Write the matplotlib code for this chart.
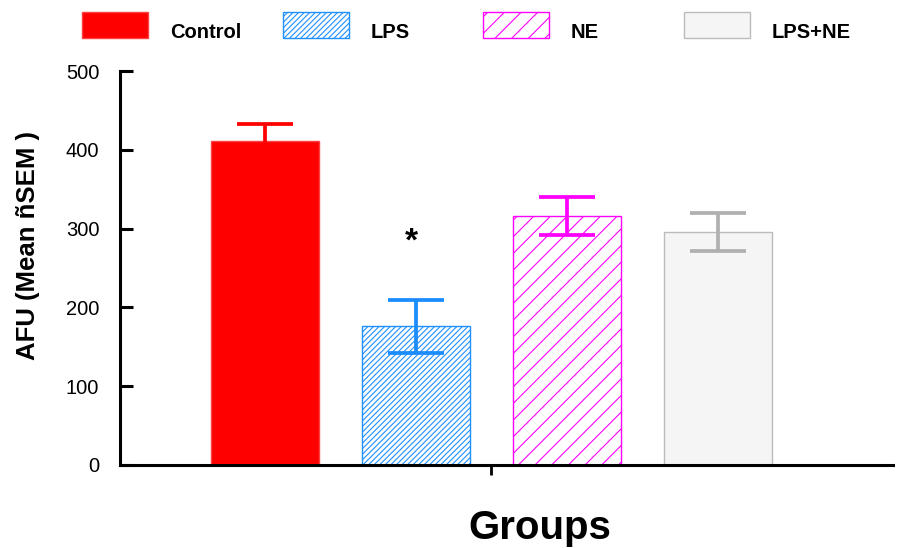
import matplotlib
matplotlib.use("Agg")
import matplotlib.pyplot as plt
from matplotlib.patches import Rectangle

plt.rcParams['font.family'] = ['Liberation Sans', 'DejaVu Sans']
plt.rcParams['hatch.linewidth'] = 0.8

# group means and SEM (AFU)
groups = ['Control', 'LPS', 'NE', 'LPS+NE']
means = [411, 176, 316, 296]
sems = [22, 34, 24, 24]
hatches = ['', '//////', '//', '']
face = ['#ff0000', 'white', 'white', '#f5f5f5']
edge = ['#ff4040', '#1e90ff', '#ff00ff', '#bbbbbb']
err_col = ['#ff0000', '#1a8cff', '#ff00ff', '#b0b0b0']
star_y = 283

fig = plt.figure(figsize=(9.06, 5.48), dpi=100)
ax = fig.add_axes([0.1325, 0.1515, 0.8532, 0.7189])

x = range(len(groups))
for i in x:
    ax.bar(i, means[i], width=0.71, color=face[i], edgecolor=edge[i],
           hatch=hatches[i], linewidth=1, zorder=2)
    ax.errorbar(i, means[i], yerr=sems[i], color=err_col[i], elinewidth=2.7,
                capsize=20.5, capthick=2.7, zorder=3)

ax.text(0.97, star_y, '*', ha='center', va='center', fontsize=24, fontweight='bold')

ax.set_xlim(-0.96, 4.16)
ax.set_ylim(0, 500)
ax.set_yticks([0, 100, 200, 300, 400, 500])
ax.set_xticks([1.5])
ax.set_xticklabels([''])
ax.tick_params(axis='y', direction='in', length=9.5, width=2.2, pad=15, labelsize=14.5)
ax.tick_params(axis='x', direction='out', length=7, width=2)
for s in ['top', 'right']:
    ax.spines[s].set_visible(False)
for s in ['left', 'bottom']:
    ax.spines[s].set_linewidth(2.2)

ax.set_ylabel('AFU (Mean ñSEM )', fontsize=18.5, fontweight='bold')
ax.yaxis.set_label_coords(-0.104, 0.557)
ax.set_xlabel('Groups', fontsize=29, fontweight='bold')
ax.xaxis.set_label_coords(0.543, -0.112)

# legend row drawn along the top edge of the figure
W, H = 906, 548
for i, g in enumerate(groups):
    x0 = 82 + i * 200.5
    fig.add_artist(Rectangle((x0 / W, 1 - 38 / H), 66 / W, 26 / H,
                             transform=fig.transFigure, facecolor=face[i],
                             edgecolor=edge[i], hatch=hatches[i], linewidth=1))
    fig.text((x0 + 88) / W, 1 - 32 / H, g, fontsize=14.5, fontweight='bold',
             va='center', ha='left')

fig.savefig('out.png', dpi=100)
